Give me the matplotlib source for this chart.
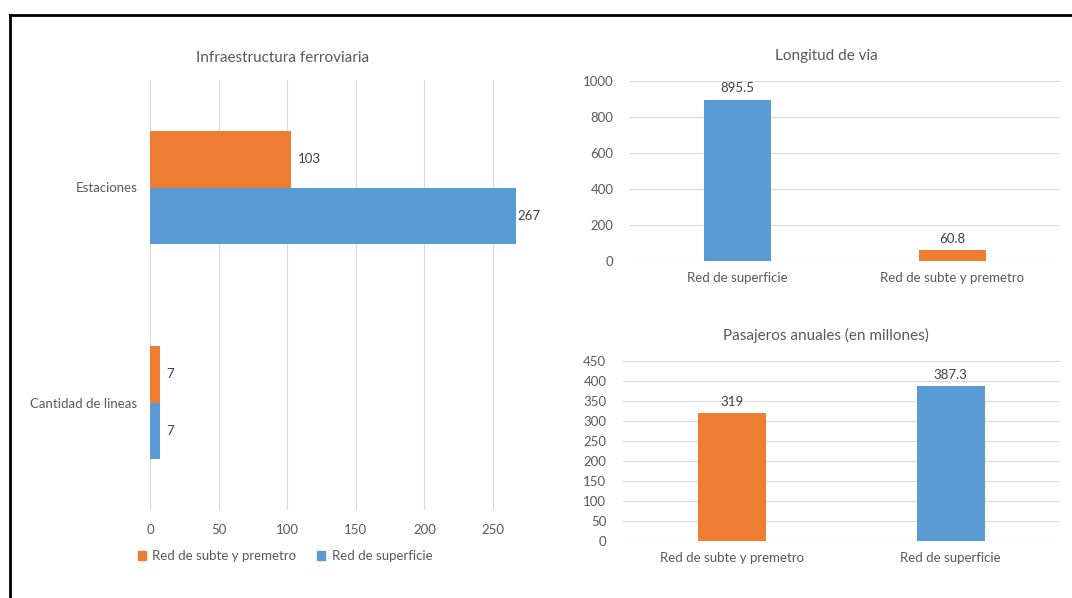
import matplotlib
matplotlib.use("Agg")
import matplotlib.pyplot as plt
from matplotlib.lines import Line2D
from matplotlib.patches import Patch
import numpy as np

# ---------- data ----------
infra_categories = ["Cantidad de lineas", "Estaciones"]
infra_subte = [7, 103]
infra_superficie = [7, 267]
infra_ticks = [0, 50, 100, 150, 200, 250]

via_categories = ["Red de superficie", "Red de subte y premetro"]
via_values = [895.5, 60.8]
via_ticks = [0, 200, 400, 600, 800, 1000]

pasajeros_categories = ["Red de subte y premetro", "Red de superficie"]
pasajeros_values = [319, 387.3]
pasajeros_ticks = [0, 50, 100, 150, 200, 250, 300, 350, 400, 450]

ORANGE = "#ED7D31"
BLUE = "#5B9BD5"
TEXT = "#595959"
LABEL = "#404040"
GRID = "#D9D9D9"

plt.rcParams["font.family"] = ["Lato", "DejaVu Sans"]

W, H = 1072, 598
fig = plt.figure(figsize=(W / 100, H / 100), dpi=100)
fig.patch.set_facecolor("white")


def px_axes(x0, y0, x1, y1):
    # pixel box (top-left origin) -> figure axes
    return fig.add_axes([x0 / W, (H - y1) / H, (x1 - x0) / W, (y1 - y0) / H])


# ---------- border ----------
fig.add_artist(Line2D([9.5 / W, 9.5 / W], [0, 1 - 14.5 / H], color="black", lw=2))
fig.add_artist(Line2D([9.5 / W, 1], [1 - 14.5 / H, 1 - 14.5 / H], color="black", lw=2))

# ---------- left: horizontal bars ----------
ax = px_axes(150, 80, 541, 510)
y = np.arange(len(infra_categories))
h = 0.265
b_sub = ax.barh(y + h / 2, infra_subte, height=h, color=ORANGE, zorder=3)
b_sup = ax.barh(y - h / 2, infra_superficie, height=h, color=BLUE, zorder=3)
for bars, vals in ((b_sub, infra_subte), (b_sup, infra_superficie)):
    for bar, v in zip(bars, vals):
        ax.text(min(v + 5, 268), bar.get_y() + bar.get_height() / 2, f"{v}",
                ha="left", va="center", fontsize=9.5, color=LABEL)
ax.set_ylim(-0.5, 1.5)
ax.set_xlim(0, 285)
ax.set_xticks(infra_ticks)
ax.set_yticks(y)
ax.set_yticklabels(infra_categories)
ax.xaxis.grid(True, color=GRID, lw=0.8, zorder=0)
for s in ax.spines.values():
    s.set_visible(False)
ax.tick_params(length=0, labelsize=9.5, colors=TEXT)
ax.tick_params(axis="x", pad=10)
ax.tick_params(axis="y", pad=9)
ax.set_title("Infraestructura ferroviaria", fontsize=11, color=TEXT, pad=13, x=0.338)
handles = [Patch(color=ORANGE, label="Red de subte y premetro"),
           Patch(color=BLUE, label="Red de superficie")]
fig.legend(handles=handles, loc="center", bbox_to_anchor=(285 / W, 1 - 556 / H),
           ncol=2, frameon=False, fontsize=9.5, labelcolor=TEXT,
           handlelength=0.6, handleheight=0.6, handletextpad=0.5, columnspacing=1.6)


def column_chart(ax, cats, vals, colors, ticks, title, ylim_top, title_x):
    x = np.arange(len(cats))
    bars = ax.bar(x, vals, width=0.31, color=colors, zorder=3)
    for bar, v in zip(bars, vals):
        ax.text(bar.get_x() + bar.get_width() / 2, v + ylim_top * 0.03,
                f"{v:g}", ha="center", va="bottom", fontsize=9.5, color=LABEL)
    ax.set_xlim(-0.5, len(cats) - 0.5)
    ax.set_ylim(0, ylim_top)
    ax.set_yticks(ticks)
    ax.set_xticks(x)
    ax.set_xticklabels(cats)
    ax.yaxis.grid(True, color=GRID, lw=0.8, zorder=0)
    for s in ax.spines.values():
        s.set_visible(False)
    ax.tick_params(length=0, labelsize=9.5, colors=TEXT)
    ax.tick_params(axis="x", pad=8)
    ax.tick_params(axis="y", pad=12)
    ax.set_title(title, fontsize=11, color=TEXT, pad=15, x=title_x)


ax2 = px_axes(630, 81, 1060, 261)
column_chart(ax2, via_categories, via_values, [BLUE, ORANGE], via_ticks,
             "Longitud de via", 1000, (826 - 630) / 430)

ax3 = px_axes(623, 361, 1060, 541)
column_chart(ax3, pasajeros_categories, pasajeros_values, [ORANGE, BLUE],
             pasajeros_ticks, "Pasajeros anuales (en millones)", 450, (826 - 623) / 437)

fig.savefig("out.png", dpi=100, facecolor="white")
